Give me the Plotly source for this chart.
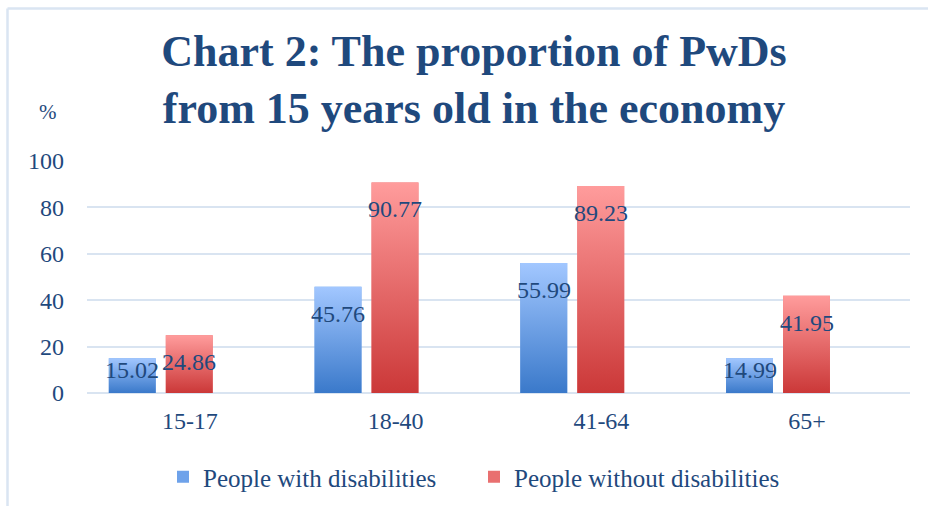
import plotly.graph_objects as go

# ---- data -------------------------------------------------------------
categories = ["15-17", "18-40", "41-64", "65+"]
with_disabilities = [15.02, 45.76, 55.99, 14.99]
without_disabilities = [24.86, 90.77, 89.23, 41.95]
series_names = ["People with disabilities", "People without disabilities"]
y_ticks = [0, 20, 40, 60, 80, 100]

# ---- layout constants -------------------------------------------------
W, H = 928, 506
M_L, M_R, M_T, M_B = 87, 18, 161, 113
PLOT_W = W - M_L - M_R
PLOT_H = H - M_T - M_B
Y_MAX = 100

BAR_W = 0.228              # bar width in category units
OFFSETS = [-0.394, -0.117]  # left edge of each series' bar relative to category centre

FONT = "Liberation Serif"
TEXT = "#1F497D"
GRID = "#D9E4F1"
FRAME = "#DAE5F2"

GRADIENTS = [("#3A79CA", "#A2C7FF"), ("#CB3838", "#FF9C9C")]  # (bottom, top)
SOLIDS = ["#6EA2EA", "#E97070"]

xs = list(range(len(categories)))
series = [with_disabilities, without_disabilities]


def px_x(px):
    """Convert a horizontal pixel position on the page to paper units."""
    return (px - M_L) / PLOT_W


def px_y(py):
    """Convert a vertical pixel position (from the top) to paper units."""
    return (H - M_B - py) / PLOT_H


fig = go.Figure()

for name, vals, off, grad, solid in zip(series_names, series, OFFSETS, GRADIENTS, SOLIDS):
    fig.add_trace(go.Bar(
        x=xs, y=vals, name=name, width=BAR_W, offset=off,
        marker=dict(color=solid, line=dict(width=0)),
        customdata=categories,
        hovertemplate="%{customdata}: %{y}<extra>" + name + "</extra>",
    ))
    # vertical colour gradient laid over each bar
    for i, v in zip(xs, vals):
        x0 = i + off
        x1 = x0 + BAR_W
        fig.add_trace(go.Scatter(
            x=[x0, x1, x1, x0, x0], y=[0, 0, v, v, 0],
            mode="none", fill="toself",
            fillgradient=dict(type="vertical",
                              colorscale=[[0, grad[0]], [1, grad[1]]]),
            showlegend=False, hoverinfo="skip",
        ))

# value labels just inside the top of every bar
px_per_unit = PLOT_H / Y_MAX
for vals, off in zip(series, OFFSETS):
    for i, v in zip(xs, vals):
        fig.add_annotation(
            x=i + off + BAR_W / 2, y=v, xref="x", yref="y",
            text=f"{v:.2f}", showarrow=False,
            yshift=-min(27, v * px_per_unit - 23),
            font=dict(family=FONT, size=24, color=TEXT),
        )

# unit label above the value axis
fig.add_annotation(
    x=px_x(48), y=px_y(112), xref="paper", yref="paper",
    xanchor="center", yanchor="middle",
    text="%", showarrow=False,
    font=dict(family=FONT, size=21, color=TEXT),
)

# light frame around the chart (top and left edges)
fl, ft = px_x(7.5), px_y(8.5)
fig.add_shape(type="line", xref="paper", yref="paper",
              x0=fl, x1=px_x(W + 5), y0=ft, y1=ft,
              line=dict(color=FRAME, width=2.5))
fig.add_shape(type="line", xref="paper", yref="paper",
              x0=fl, x1=fl, y0=ft, y1=px_y(H + 5),
              line=dict(color=FRAME, width=2.5))

fig.update_layout(
    width=W, height=H,
    margin=dict(l=M_L, r=M_R, t=M_T, b=M_B, pad=0),
    paper_bgcolor="white", plot_bgcolor="white",
    barmode="group",
    font=dict(family=FONT, color=TEXT),
    title=dict(
        text="Chart 2: The proportion of PwDs<br>from 15 years old in the economy",
        x=474 / W, xanchor="center", xref="container",
        y=1 - 66 / H, yanchor="middle", yref="container",
        font=dict(family=FONT, size=44, color=TEXT, weight=700),
    ),
    xaxis=dict(
        range=[-0.5, len(categories) - 0.5],
        tickvals=xs, ticktext=categories,
        showgrid=False, zeroline=False, showline=False, ticks="",
        tickfont=dict(family=FONT, size=24, color=TEXT),
        ticklabelstandoff=11,
        fixedrange=True,
    ),
    yaxis=dict(
        range=[0, Y_MAX], tickvals=y_ticks,
        showgrid=True, gridcolor=GRID, gridwidth=1.5,
        zeroline=True, zerolinecolor=GRID, zerolinewidth=1.5,
        showline=False, ticks="",
        tickfont=dict(family=FONT, size=24, color=TEXT),
        ticklabelstandoff=22,
        fixedrange=True,
    ),
    legend=dict(
        orientation="h", xref="container", yref="container",
        x=474 / W, xanchor="center", y=1 - 477 / H, yanchor="middle",
        entrywidth=266,
        font=dict(family=FONT, size=25, color=TEXT),
        itemclick=False, itemdoubleclick=False,
    ),
    showlegend=True,
)

fig.write_html("out.html")
